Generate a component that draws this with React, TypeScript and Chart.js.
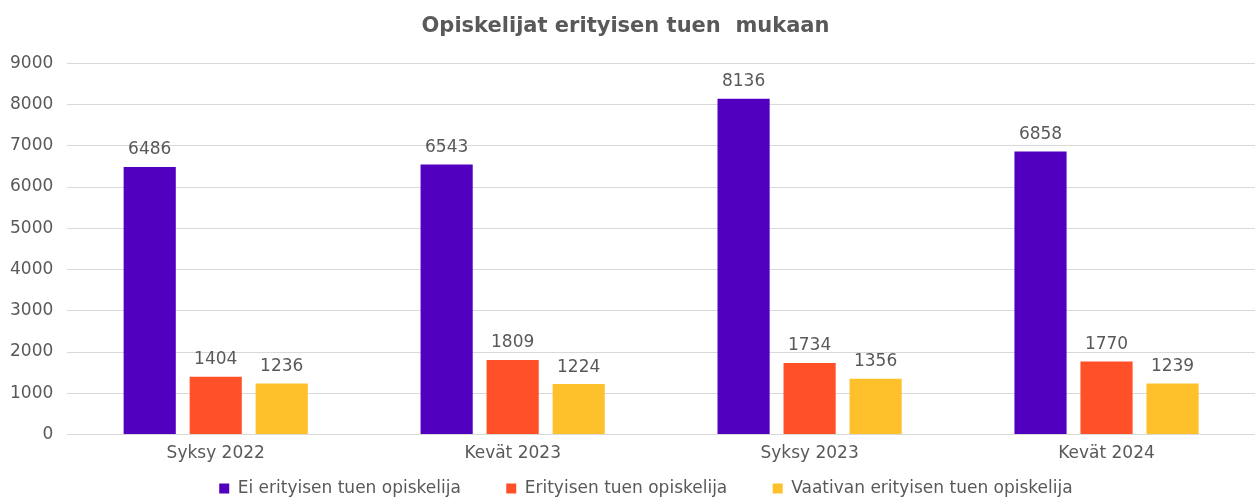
import React, { useEffect, useRef } from "react";
import { Chart, registerables } from "chart.js";

Chart.register(...registerables);

const categories = ["Syksy 2022", "Kevät 2023", "Syksy 2023", "Kevät 2024"];
const seriesNames = [
  "Ei erityisen tuen opiskelija",
  "Erityisen tuen opiskelija",
  "Vaativan erityisen tuen opiskelija",
];
const eiErityisen = [6486, 6543, 8136, 6858];
const erityisen = [1404, 1809, 1734, 1770];
const vaativan = [1236, 1224, 1356, 1239];
const colors = ["#5200BF", "#FF5028", "#FFC12B"];
const yTicksMax = 9000;
const yTickStep = 1000;
const titleText = "Opiskelijat erityisen tuen  mukaan";

const FONT = "'DejaVu Sans', sans-serif";
const TEXT = "#595959";

const dataLabelPlugin = {
  id: "dataLabels",
  afterDatasetsDraw(chart: any) {
    const ctx = chart.ctx;
    ctx.save();
    ctx.font = `17px ${FONT}`;
    ctx.fillStyle = TEXT;
    ctx.textAlign = "center";
    ctx.textBaseline = "middle";
    chart.data.datasets.forEach((ds: any, i: number) => {
      const meta = chart.getDatasetMeta(i);
      meta.data.forEach((bar: any, j: number) => {
        ctx.fillText(String(ds.data[j]), bar.x, bar.y - 17);
      });
    });
    ctx.restore();
  },
};

const legendSuffix = ["     \u2009", "     \u2009", "     \u2009"];

export default function App() {
  const ref = useRef<HTMLCanvasElement>(null);
  useEffect(() => {
    document.body.style.margin = "0";
    const chart = new Chart(ref.current!, {
      type: "bar",
      data: {
        labels: categories,
        datasets: [eiErityisen, erityisen, vaativan].map((d, i) => ({
          label: seriesNames[i],
          data: d,
          backgroundColor: colors[i],
          categoryPercentage: 0.667,
          barPercentage: 0.79,
        })),
      },
      options: {
        animation: false,
        responsive: false,
        maintainAspectRatio: false,
        layout: { padding: { left: -4, right: 0, top: 0, bottom: -10 } },
        plugins: {
          title: {
            display: true,
            text: titleText,
            color: TEXT,
            font: { family: FONT, size: 21, weight: "bold" },
            padding: { top: 14, bottom: 24 },
          },
          legend: {
            position: "bottom",
            fullSize: false,
            labels: {
              color: TEXT,
              font: { family: FONT, size: 17 },
              boxWidth: 10,
              boxHeight: 10,
              padding: 15,
              generateLabels(chart: any) {
                const items = Chart.defaults.plugins.legend.labels.generateLabels(chart);
                return items.map((it: any, i: number) => ({
                  ...it,
                  text: it.text + legendSuffix[i],
                  lineWidth: 0,
                }));
              },
            },
          },
          tooltip: { enabled: false },
        },
        scales: {
          x: {
            grid: { display: false },
            border: { display: false },
            ticks: { color: TEXT, font: { family: FONT, size: 17 }, padding: 1 },
          },
          y: {
            min: 0,
            max: yTicksMax,
            grid: { color: "#D9D9D9", drawTicks: false },
            border: { display: false },
            ticks: {
              stepSize: yTickStep,
              color: TEXT,
              font: { family: FONT, size: 17 },
              padding: 14,
              callback: (v: any) => String(v),
            },
          },
        },
      },
      plugins: [dataLabelPlugin],
    });
    return () => chart.destroy();
  }, []);
  return (
    <div style={{ width: 1255, height: 497 }}>
      <canvas ref={ref} width={1255} height={497} />
    </div>
  );
}
